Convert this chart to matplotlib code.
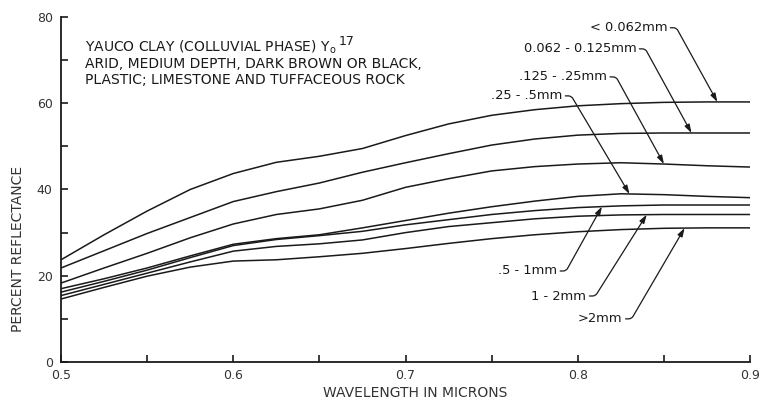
import numpy as np
import matplotlib.pyplot as plt

plt.rcParams['font.family'] = ['DejaVu Sans']
plt.rcParams['mathtext.default'] = 'regular'

# wavelength in microns
wavelength = [0.50, 0.525, 0.55, 0.575, 0.60, 0.625, 0.65, 0.675, 0.70,
              0.725, 0.75, 0.775, 0.80, 0.825, 0.85, 0.875, 0.90]

# percent reflectance per particle size fraction
refl_lt_0062 = [23.7, 29.5, 35.0, 40.0, 43.7, 46.3, 47.7, 49.5, 52.5,
                55.2, 57.2, 58.5, 59.4, 59.9, 60.2, 60.3, 60.3]
refl_0062_0125 = [21.8, 25.8, 29.8, 33.5, 37.2, 39.5, 41.5, 44.0, 46.2,
                  48.3, 50.3, 51.7, 52.6, 53.0, 53.1, 53.1, 53.1]
refl_0125_025 = [18.3, 21.8, 25.2, 28.8, 32.0, 34.2, 35.5, 37.5, 40.5,
                 42.5, 44.3, 45.3, 45.9, 46.2, 45.9, 45.5, 45.2]
refl_025_05 = [17.0, 19.3, 21.8, 24.6, 27.3, 28.6, 29.5, 31.1, 32.8,
               34.5, 36.0, 37.3, 38.4, 39.0, 38.8, 38.4, 38.1]
refl_05_1 = [16.2, 18.7, 21.3, 24.2, 27.0, 28.4, 29.3, 30.3, 31.8,
             33.0, 34.2, 35.1, 35.8, 36.2, 36.4, 36.4, 36.4]
refl_1_2 = [15.4, 18.0, 20.6, 23.2, 25.7, 26.8, 27.4, 28.3, 30.0,
            31.4, 32.3, 33.2, 33.8, 34.1, 34.2, 34.2, 34.2]
refl_gt_2 = [14.6, 17.3, 19.9, 22.0, 23.4, 23.7, 24.4, 25.2, 26.3,
             27.5, 28.6, 29.5, 30.2, 30.7, 31.0, 31.1, 31.1]

series = [refl_lt_0062, refl_0062_0125, refl_0125_025, refl_025_05,
          refl_05_1, refl_1_2, refl_gt_2]
size_labels = ['< 0.062mm', '0.062 - 0.125mm', '.125 - .25mm', '.25 - .5mm',
               '.5 - 1mm', '1 - 2mm', '>2mm']

# callout placement: right end of the label text, and where the arrow lands
label_ends = [(0.852, 77.5), (0.834, 72.6), (0.817, 66.1), (0.791, 61.7),
              (0.788, 21.1), (0.805, 15.3), (0.826, 10.0)]
arrow_x = [0.881, 0.866, 0.850, 0.830, 0.814, 0.840, 0.862]

title_lines = ['YAUCO CLAY (COLLUVIAL PHASE) Y$_{o}$',
               'ARID, MEDIUM DEPTH, DARK BROWN OR BLACK,',
               'PLASTIC; LIMESTONE AND TUFFACEOUS ROCK']
title_sup = '17'

ink = '#1a1a1a'
grey = '#333333'

fig = plt.figure(figsize=(7.61, 4.05), dpi=100)
ax = fig.add_axes([0.0802, 0.1062, 0.9054, 0.8519])

for s in series:
    ax.plot(wavelength, s, color=ink, lw=1.1)

ax.set_xlim(0.5, 0.9)
ax.set_ylim(0, 80)
ax.set_xticks([0.5, 0.6, 0.7, 0.8, 0.9])
ax.set_xticklabels(['0.5', '0.6', '0.7', '0.8', '0.9'])
ax.set_xticks(np.arange(0.55, 0.9, 0.1), minor=True)
ax.set_yticks([0, 20, 40, 60, 80])
ax.set_yticks([10, 30, 50, 70], minor=True)
ax.tick_params(which='both', direction='in', length=5, width=1.2,
               color=ink, labelsize=9, labelcolor=grey)
ax.tick_params(axis='x', pad=5)
ax.tick_params(axis='y', pad=6)
for side in ['top', 'right']:
    ax.spines[side].set_visible(False)
for side in ['left', 'bottom']:
    ax.spines[side].set_linewidth(1.3)
    ax.spines[side].set_color(ink)

fig.text(0.545, 0.03, 'WAVELENGTH IN MICRONS', ha='center', va='center',
         fontsize=10, color=grey)
fig.text(0.024, 0.385, 'PERCENT REFLECTANCE', ha='center', va='center',
         rotation=90, fontsize=10, color=grey)

renderer = fig.canvas.get_renderer()
to_data = ax.transData.inverted()

first = None
for line, y in zip(title_lines, [71.9, 68.1, 64.5]):
    t = ax.text(0.514, y, line, ha='left', va='baseline', fontsize=10,
                color=ink)
    if first is None:
        first = t
bb = first.get_window_extent(renderer=renderer)
bx, by = ax.transData.transform((0.514, 71.9))
sx, sy = to_data.transform((bb.x1 + 2, by + 7))
ax.text(sx, sy, title_sup, ha='left', va='baseline', fontsize=9, color=ink)

for label, (lx, ly), tx, s in zip(size_labels, label_ends, arrow_x, series):
    ty = np.interp(tx, wavelength, s)
    ax.text(lx, ly, label, ha='right', va='center', fontsize=9.4, color=ink)
    ex, ey = ax.transData.transform((lx, ly))
    px, py = ax.transData.transform((tx, ty))
    start = to_data.transform((ex + 3, ey))
    cx, cy = ex + 9, ey
    ang = np.degrees(np.arctan2(cy - py, cx - px))
    ax.annotate('', xy=(tx, ty), xytext=start,
                arrowprops=dict(arrowstyle='-|>,head_length=0.5,head_width=0.16',
                                connectionstyle=f'angle,angleA=0,angleB={ang},rad=3',
                                color=ink, lw=0.9, shrinkA=0, shrinkB=0))

fig.savefig('out.png', dpi=100)
